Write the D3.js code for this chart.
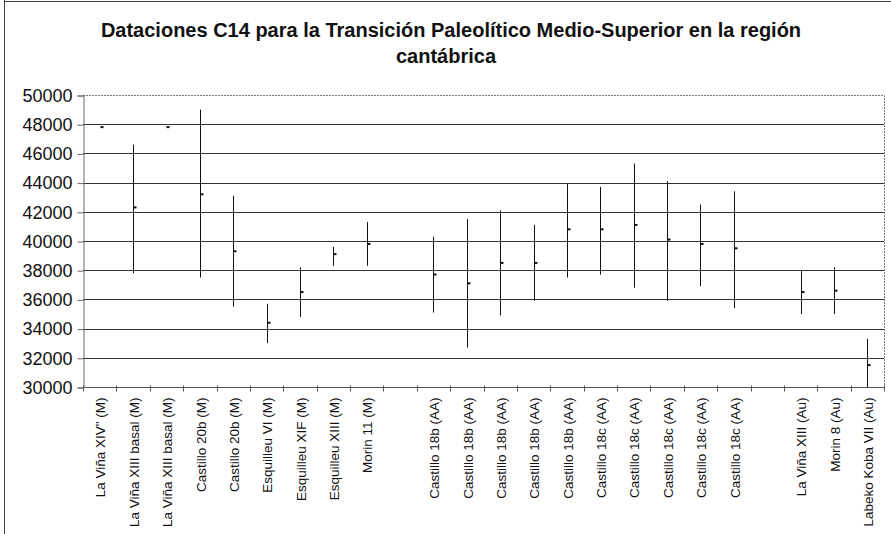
<!DOCTYPE html>
<html>
<head>
<meta charset="utf-8">
<script src="https://cdn.jsdelivr.net/npm/d3@7"></script>
<style>
  body { margin: 0; background: #fff; }
  svg text { font-family: "Liberation Sans", Arial, sans-serif; fill: #111; }
</style>
</head>
<body>
<div id="chart"></div>
<script>
// categories along the x axis ("" = empty slot)
var categories = [
    'La Viña XIV" (M)', "La Viña XIII basal (M)", "La Viña XIII basal (M)",
    "Castillo 20b (M)", "Castillo 20b (M)", "Esquilleu VI (M)", "Esquilleu XIF (M)",
    "Esquilleu XIII (M)", "Morin 11 (M)", "",
    "Castillo 18b (AA)", "Castillo 18b (AA)", "Castillo 18b (AA)", "Castillo 18b (AA)",
    "Castillo 18b (AA)", "Castillo 18c (AA)", "Castillo 18c (AA)", "Castillo 18c (AA)",
    "Castillo 18c (AA)", "Castillo 18c (AA)", "",
    "La Viña XIII (Au)", "Morin 8 (Au)", "Labeko Koba VII (Au)"
];
var highs  = [47800, 46600, 47800, 49000, 43100, 35700, 38200, 39600, 41300, null,
              40300, 41500, 42100, 41100, 43900, 43700, 45300, 44100, 42500, 43400, null,
              38000, 38200, 33300];
var lows   = [47800, 37800, 47800, 37500, 35500, 33000, 34800, 38300, 38300, null,
              35100, 32700, 34900, 35900, 37500, 37700, 36800, 35900, 36900, 35400, null,
              35000, 35000, 30000];
var dates  = [47800, 42300, 47800, 43200, 39300, 34400, 36500, 39100, 39800, null,
              37700, 37100, 38500, 38500, 40800, 40800, 41100, 40100, 39800, 39500, null,
              36500, 36600, 31500];
var yTicks = [30000, 32000, 34000, 36000, 38000, 40000, 42000, 44000, 46000, 48000, 50000];
var titleLines = ["Dataciones C14 para la Transición Paleolítico Medio-Superior en la región", "cantábrica"];

var width = 891, height = 534;
var plotLeft = 83, plotRight = 884, plotTop = 95, plotBottom = 387;

var svg = d3.select("#chart").append("svg")
    .attr("width", width)
    .attr("height", height);

// outer chart frame
svg.append("line").attr("x1", 4.5).attr("x2", 4.5).attr("y1", 0).attr("y2", height)
    .attr("stroke", "#444").attr("stroke-width", 1);
svg.append("line").attr("x1", 4).attr("x2", width).attr("y1", 1.5).attr("y2", 1.5)
    .attr("stroke", "#444").attr("stroke-width", 1);

// title
svg.selectAll("text.title")
    .data(titleLines)
    .enter()
    .append("text")
    .attr("class", "title")
    .attr("x", function(d, i){ return i == 0 ? 451 : 446; })
    .attr("y", function(d, i){ return 37 + i * 26; })
    .attr("text-anchor", "middle")
    .style("font-size", "20px")
    .style("font-weight", "bold")
    .text(function(d){ return d; });

var x = d3.scaleBand()
    .domain(d3.range(categories.length))
    .range([plotLeft, plotRight])
    .padding(0);

var y = d3.scaleLinear()
    .domain([30000, 50000])
    .range([plotBottom, plotTop]);

// gridlines
svg.append("g")
    .selectAll("line")
    .data(yTicks.slice(1, -1))
    .enter()
    .append("line")
    .attr("x1", plotLeft)
    .attr("x2", plotRight)
    .attr("y1", function(d){ return Math.round(y(d)) + 0.5; })
    .attr("y2", function(d){ return Math.round(y(d)) + 0.5; })
    .attr("stroke", "#333")
    .attr("stroke-width", 1);

// plot area border (dotted top and right)
svg.append("path")
    .attr("d", "M" + plotLeft + "," + (plotTop + 0.5) + "H" + (plotRight + 0.5) + "V" + plotBottom)
    .attr("fill", "none")
    .attr("stroke", "#777")
    .attr("stroke-width", 1)
    .attr("stroke-dasharray", "2,1");

// y axis
var yAxis = svg.append("g")
    .attr("transform", "translate(" + (plotLeft + 0.5) + ",0.5)")
    .call(d3.axisLeft(y).tickValues(yTicks).tickFormat(d3.format("d")).tickSize(6).tickPadding(5));
yAxis.selectAll("text").style("font-size", "18px").attr("fill", "#111");
yAxis.selectAll("line, path").attr("stroke", "#666");

// x axis: ticks on category boundaries
var xg = svg.append("g").attr("transform", "translate(0," + (plotBottom + 0.5) + ")");
xg.append("line").attr("x1", plotLeft).attr("x2", plotRight + 1).attr("stroke", "#555");
xg.selectAll("line.tick")
    .data(d3.range(categories.length + 1))
    .enter()
    .append("line")
    .attr("class", "tick")
    .attr("x1", function(i){ return Math.round(plotLeft + i * x.step()) + 0.5; })
    .attr("x2", function(i){ return Math.round(plotLeft + i * x.step()) + 0.5; })
    .attr("y1", -2)
    .attr("y2", 4)
    .attr("stroke", "#555");
xg.selectAll("text")
    .data(categories)
    .enter()
    .append("text")
    .attr("transform", function(d, i){
        return "translate(" + (x(i) + x.bandwidth() / 2 + 1) + ",10) rotate(-90)";
    })
    .attr("text-anchor", "end")
    .attr("dy", "0.35em")
    .style("font-size", "13.5px")
    .text(function(d){ return d; });

// high-low lines with date marks
var idx = d3.range(categories.length).filter(function(i){ return highs[i] != null; });
var marks = svg.append("g").selectAll("g")
    .data(idx)
    .enter()
    .append("g")
    .attr("transform", function(i){
        return "translate(" + (Math.round(x(i) + x.bandwidth() / 2) + 0.5) + ",0)";
    });
marks.append("line")
    .attr("y1", function(i){ return y(highs[i]); })
    .attr("y2", function(i){ return y(Math.max(lows[i], 30000)); })
    .attr("stroke", "#111")
    .attr("stroke-width", 1);
marks.append("rect")
    .attr("x", 0)
    .attr("y", function(i){ return y(dates[i]) - 1; })
    .attr("width", 3)
    .attr("height", 2)
    .attr("fill", "#111");
</script>
</body>
</html>
